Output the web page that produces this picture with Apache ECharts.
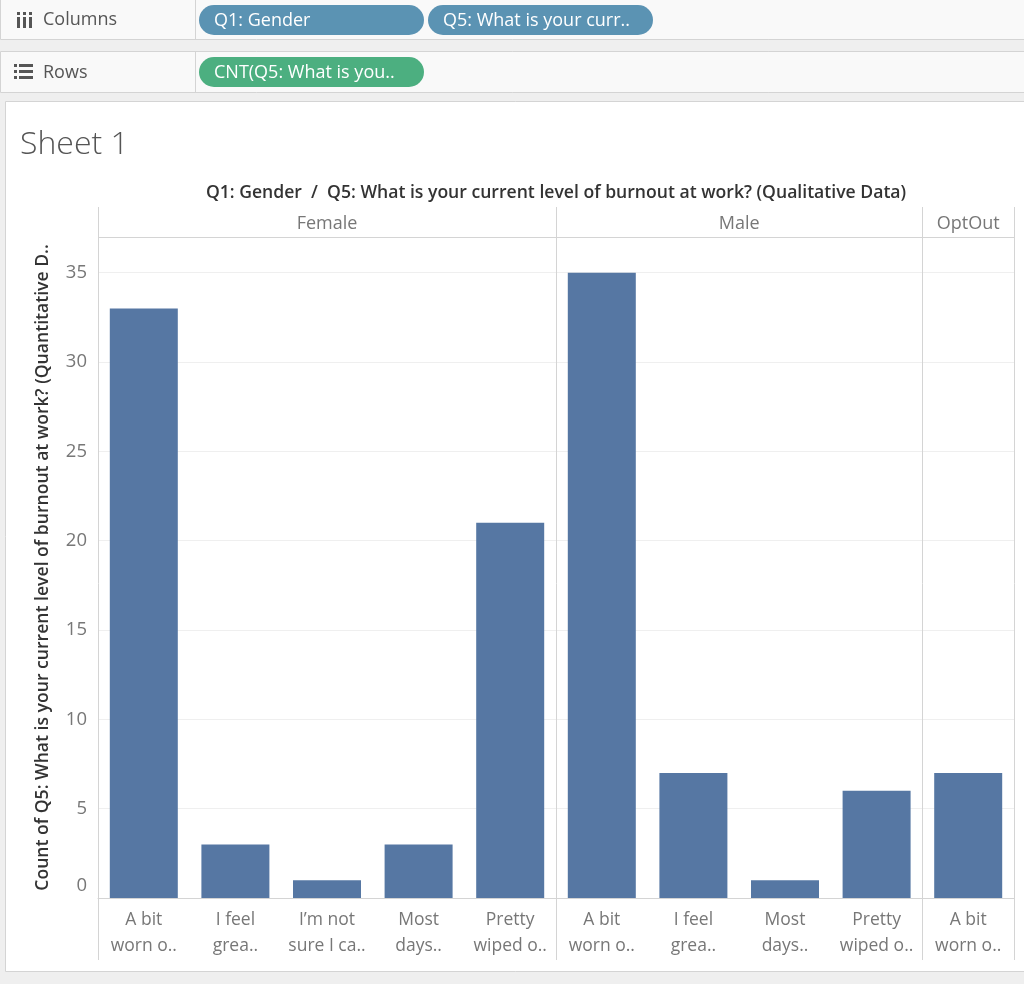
<!DOCTYPE html>
<html>
<head>
<meta charset="utf-8">
<script src="https://cdn.jsdelivr.net/npm/echarts@6/dist/echarts.min.js"></script>
<style>
  html, body { margin: 0; padding: 0; background: #efefef; }
  #chart { width: 1024px; height: 984px; }
</style>
</head>
<body>
<div id="chart"></div>
<script>
// ---- data ----
const genders = ['Female', 'Male', 'OptOut'];
const groupSizes = [5, 4, 1];
const burnoutLabels = [
  'A bit\nworn o..', 'I feel\ngrea..', 'I\u2019m not\nsure I ca..', 'Most\ndays..', 'Pretty\nwiped o..',
  'A bit\nworn o..', 'I feel\ngrea..', 'Most\ndays..', 'Pretty\nwiped o..',
  'A bit\nworn o..'
];
const counts = [33, 3, 1, 3, 21, 35, 7, 1, 6, 7];
const yTicks = [0, 5, 10, 15, 20, 25, 30, 35];

const FONT = '"Open Sans", Lato, sans-serif';
const chart = echarts.init(document.getElementById('chart'));

const GRID = { left: 98, right: 10, top: 237, bottom: 86 };
const W = 1024, H = 984;

const option = {
  backgroundColor: '#efefef',
  animation: false,
  textStyle: { fontFamily: FONT },
  grid: { left: GRID.left, right: GRID.right, top: GRID.top, bottom: GRID.bottom, containLabel: false },
  xAxis: {
    type: 'category',
    data: burnoutLabels.map((l, i) => String(i)),
    axisLine: { show: true, lineStyle: { color: '#d4d4d4', width: 1 } },
    axisTick: { show: false },
    axisLabel: {
      interval: 0,
      formatter: (v, i) => burnoutLabels[i],
      color: '#777', fontSize: 17.5, lineHeight: 26, margin: 9, fontFamily: FONT
    },
    splitLine: { show: false }
  },
  yAxis: {
    type: 'value',
    min: 0, max: 37, interval: 5,
    name: 'Count of Q5: What is your current level of burnout at work? (Quantitative D..',
    nameLocation: 'middle', nameGap: 46, nameRotate: 90,
    nameTextStyle: { color: '#333', fontSize: 17.6, fontFamily: FONT, fontWeight: 600 },
    axisLine: { show: false },
    axisTick: { show: false },
    axisLabel: {
      showMaxLabel: false,
      color: '#777', fontSize: 18.5, margin: 11, fontFamily: FONT,
      formatter: v => (yTicks.indexOf(v) < 0 ? '' : (v === 0 ? '{z|0}' : String(v))),
      rich: { z: { color: '#777', fontSize: 18.5, fontFamily: FONT, padding: [0, 0, 24, 0] } }
    },
    splitLine: { show: true, lineStyle: { color: '#efefef', width: 1 } }
  },
  series: [{
    type: 'bar',
    data: counts,
    barWidth: 68,
    itemStyle: { color: '#5677a3' },
    silent: true
  }]
};
chart.setOption(option);

// ---- decorations (shelves, headers, dividers) ----
const xc = i => chart.convertToPixel({ xAxisIndex: 0 }, i);
const band = xc(1) - xc(0);
const boundary = i => xc(0) - band / 2 + band * i;
const gridTop = GRID.top, gridBottom = H - GRID.bottom;

const g = [];
function shelf(y, h, label) {
  g.push({ type: 'rect', shape: { x: 0.5, y: y + 0.5, width: 1030, height: h }, style: { fill: '#f9f9f9', stroke: '#d4d4d4', lineWidth: 1 } });
  g.push({ type: 'line', shape: { x1: 195.5, y1: y, x2: 195.5, y2: y + h }, style: { stroke: '#d4d4d4', lineWidth: 1 } });
  g.push({ type: 'text', x: 43, y: y + h / 2 + 1, style: { text: label, fill: '#555', fontSize: 18, fontFamily: FONT, textVerticalAlign: 'middle' } });
}
shelf(-1, 40, 'Columns');
shelf(51, 41, 'Rows');
for (let k = 0; k < 3; k++) {
  g.push({ type: 'rect', shape: { x: 17 + k * 6, y: 12, width: 3, height: 3 }, style: { fill: '#555' } });
  g.push({ type: 'rect', shape: { x: 17 + k * 6, y: 17, width: 3, height: 11 }, style: { fill: '#555' } });
}
for (let k = 0; k < 3; k++) {
  g.push({ type: 'rect', shape: { x: 14, y: 64 + k * 6, width: 3, height: 3 }, style: { fill: '#555' } });
  g.push({ type: 'rect', shape: { x: 19, y: 64 + k * 6, width: 14, height: 3 }, style: { fill: '#555' } });
}
function pill(x, y, w, h, fill, text) {
  g.push({ type: 'rect', shape: { x: x, y: y, width: w, height: h, r: h / 2 }, style: { fill: fill } });
  g.push({ type: 'text', x: x + 15, y: y + h / 2 + 1, style: { text: text, fill: '#fff', fontSize: 18, fontFamily: FONT, textVerticalAlign: 'middle' } });
}
pill(199, 5, 225, 30, '#5b93b3', 'Q1: Gender');
pill(428, 5, 225, 30, '#5b93b3', 'Q5: What is your curr..');
pill(199, 57, 225, 30, '#4caf80', 'CNT(Q5: What is you..');

g.push({ type: 'rect', z: -1, shape: { x: 5.5, y: 101.5, width: 1030, height: 870 }, style: { fill: '#ffffff', stroke: '#d4d4d4', lineWidth: 1 } });
g.push({ type: 'text', x: 20, y: 145, style: { text: 'Sheet 1', fill: '#555', fontSize: 32, fontFamily: FONT, fontWeight: 300, textVerticalAlign: 'middle' } });

const plotLeft = boundary(0), plotRight = boundary(burnoutLabels.length);
g.push({ type: 'text', x: (plotLeft + plotRight) / 2, y: 193, style: {
  text: 'Q1: Gender  /  Q5: What is your current level of burnout at work? (Qualitative Data)',
  fill: '#333', fontSize: 17.6, fontWeight: 600, fontFamily: FONT, textAlign: 'center', textVerticalAlign: 'middle' } });

g.push({ type: 'line', shape: { x1: plotLeft, y1: gridTop + 0.5, x2: plotRight, y2: gridTop + 0.5 }, style: { stroke: '#d4d4d4', lineWidth: 1 } });

let start = 0;
const bounds = [0];
groupSizes.forEach((n, gi) => {
  const x0 = boundary(start), x1 = boundary(start + n);
  g.push({ type: 'text', x: (x0 + x1) / 2, y: 223.5, style: { text: genders[gi], fill: '#777', fontSize: 18, fontFamily: FONT, textAlign: 'center', textVerticalAlign: 'middle' } });
  start += n;
  bounds.push(start);
});
bounds.forEach(b => {
  const x = Math.round(boundary(b)) + 0.5;
  g.push({ type: 'line', shape: { x1: x, y1: 207, x2: x, y2: 960 }, style: { stroke: '#d4d4d4', lineWidth: 1 } });
});

chart.setOption({ graphic: { elements: g } });
</script>
</body>
</html>
